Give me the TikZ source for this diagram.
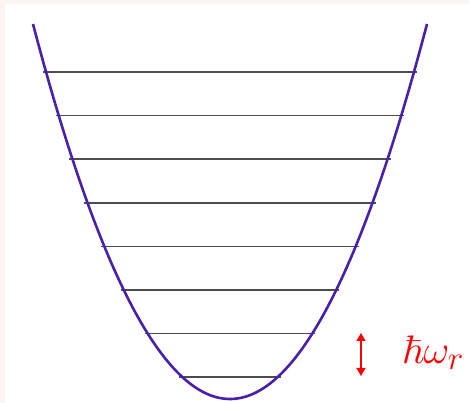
\documentclass[tikz,border=0pt]{standalone}
\usepackage{amsmath,amssymb}
\usepackage{xcolor}
\usetikzlibrary{arrows.meta, positioning, calc}

\definecolor{wellblue}{RGB}{72,32,172}
\definecolor{frame}{RGB}{253,246,240}

\begin{document}
\begin{tikzpicture}[
    x=10pt, y=-10pt,
    well/.style={wellblue, line width=2.6pt},
    level/.style={black!70, line width=1.6pt},
    gap/.style={{Triangle[length=8pt, width=9pt]}-{Triangle[length=8pt, width=9pt]}, red, line width=1.4pt},
    quantum/.style={red, font=\Huge, inner sep=0pt, anchor=base west},
]
% canvas and frame
\fill[frame] (0,0) rectangle (46.9,40.3);
\fill[white] (0.5,0.4) rectangle (46.9,40.3);
\useasboundingbox (0,0) rectangle (46.9,40.3);

% energy levels, E = (n + 1/2) hbar omega
\foreach \n in {0,...,7}{
    \pgfmathsetmacro{\lvy}{39.9-4.36*(\n+0.5)}
    \pgfmathsetmacro{\lvdx}{sqrt(4.36*(\n+0.5)/0.0966)+0.3}
    \coordinate (l\n w) at ({23-\lvdx},\lvy);
    \coordinate (l\n e) at ({23+\lvdx},\lvy);
    \draw[level] (l\n w) -- (l\n e);
}

% potential well
\coordinate (wl) at (3.3,2.4);
\coordinate (wr) at (42.7,2.4);
\draw[well] (wl) .. controls (16.43,52.4) and (29.57,52.4) .. (wr);

% level spacing
\coordinate (gtop) at (36.1,33.3);
\coordinate (gbot) at (36.1,37.6);
\draw[gap] (gtop) -- (gbot);
\node[quantum] (hw) at (40.2,36.4) {\scalebox{1.6}{$\hbar\omega_r$}};
\end{tikzpicture}
\end{document}
